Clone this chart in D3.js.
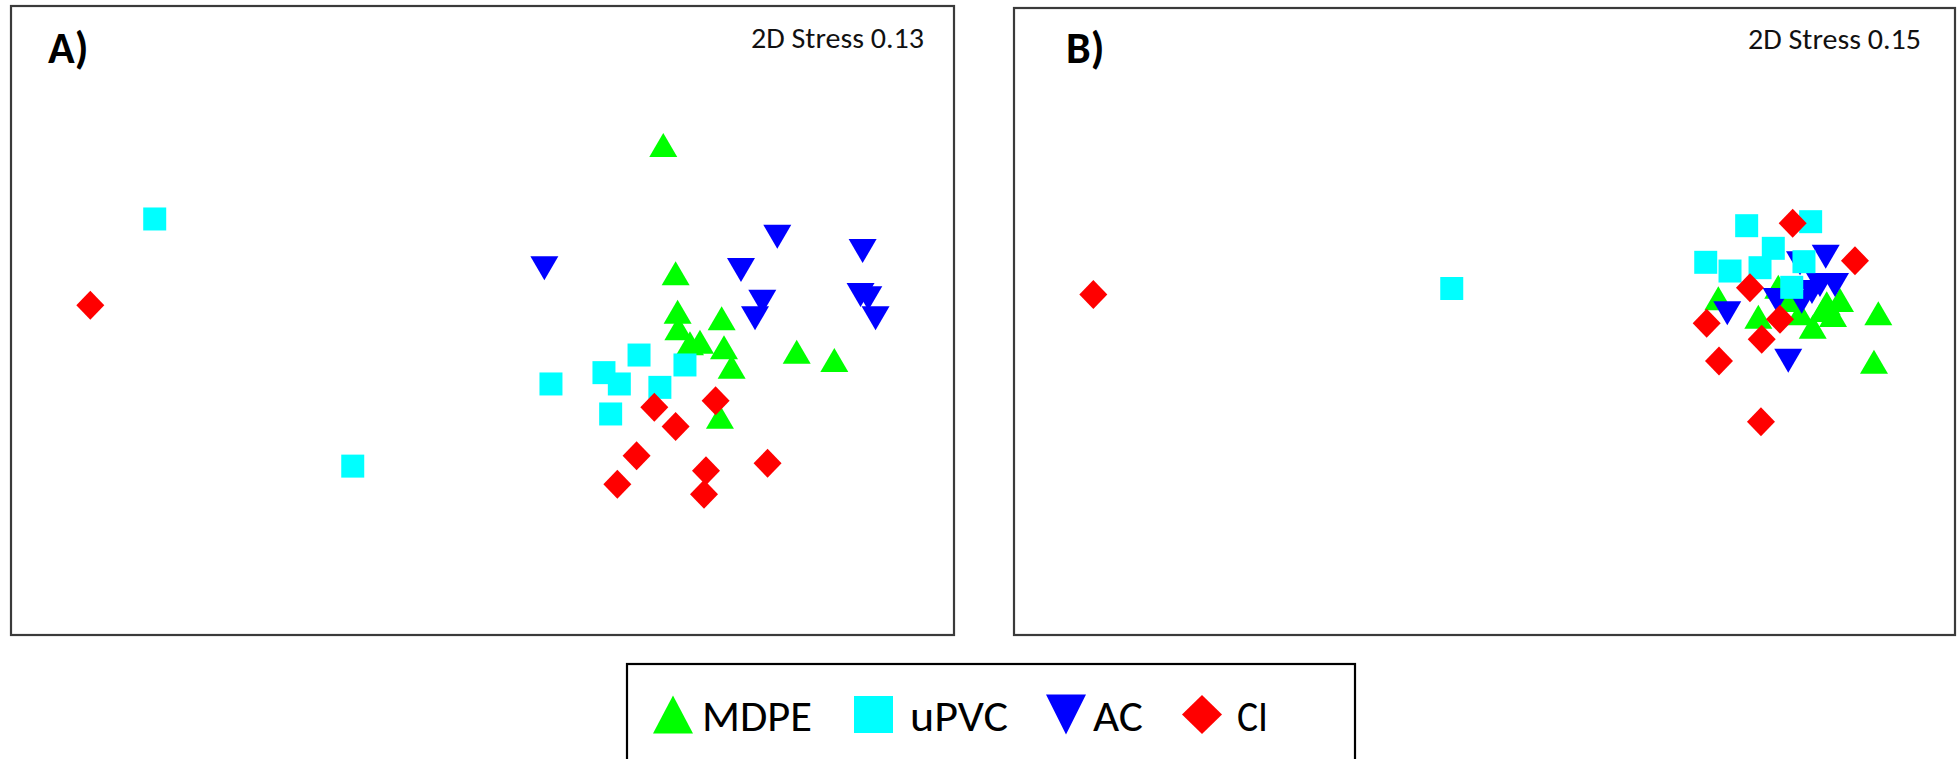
<!DOCTYPE html>
<html>
<head>
<meta charset="utf-8">
<script src="https://cdn.jsdelivr.net/npm/d3@7"></script>
<style>
  html, body { margin: 0; padding: 0; background: #fff; }
  svg { display: block; }
</style>
</head>
<body>
<div id="chart"></div>
<script>
// ---- Data: nMDS ordination coordinates (percent of plot extent, y up) ----
const categories = ["MDPE", "uPVC", "AC", "CI"];
const colors = ["#00ff00", "#00ffff", "#0000ff", "#ff0000"];
const shapes = ["triangleUp", "square", "triangleDown", "diamond"];

const panelLabels = ["A)", "B)"];
const stressLabels = ["2D Stress 0.13", "2D Stress 0.15"];

// Panel A
const A_MDPE = [[69.17,77.91],[70.48,57.5],[70.69,51.41],[70.77,48.75],[72.0,46.37],[73.06,46.64],[75.36,50.34],[75.61,45.74],[76.42,42.66],[83.32,45.05],[87.31,43.71],[75.18,34.71]];
const A_uPVC = [[57.26,39.91],[62.88,41.71],[64.51,39.91],[66.6,44.51],[68.81,39.37],[71.47,42.93],[63.59,35.14],[15.24,66.14],[36.24,26.85]];
const A_AC   = [[56.56,58.29],[81.26,63.33],[77.41,58.02],[79.67,53.0],[78.9,50.34],[90.31,61.05],[90.09,54.05],[90.91,53.53],[91.68,50.34]];
const A_CI   = [[68.22,36.19],[74.72,37.26],[70.48,33.13],[66.34,28.51],[64.3,23.95],[73.7,26.13],[73.49,22.37],[80.23,27.3],[8.41,52.42]];

// Panel B
const B_MDPE = [[74.85,53.7],[79.1,50.77],[84.88,49.17],[91.85,51.31],[91.39,43.59],[83.53,51.31],[86.37,52.9],[87.78,53.43],[81.22,55.55],[86.0,51.83],[82.47,53.43],[87.04,51.04]];
const B_uPVC = [[77.86,65.28],[84.66,65.92],[80.69,61.67],[73.51,59.44],[76.09,58.05],[79.28,58.58],[83.95,59.54],[82.65,55.45],[46.52,55.26]];
const B_AC   = [[86.26,60.33],[75.8,51.31],[82.28,43.75],[83.53,59.28],[81.05,53.43],[83.71,53.16],[85.65,55.82],[87.25,55.82],[84.8,54.7]];
const B_CI   = [[82.75,65.66],[89.37,59.7],[78.21,55.39],[73.61,49.71],[81.4,50.35],[79.46,47.16],[74.92,43.7],[79.38,34.02],[8.43,54.29]];

const panelsData = [
  [A_MDPE, A_uPVC, A_AC, A_CI],
  [B_MDPE, B_uPVC, B_AC, B_CI]
];
// draw order: green, blue, cyan, red
const drawOrder = [0, 2, 1, 3];

// ---- Layout ----
const W = 1959, H = 759;
const panels = [
  {x0: 11, x1: 954, y0: 6, y1: 635, labelDx: 37, labelBase: 63, stressRight: 924, stressBase: 48},
  {x0: 1014, x1: 1955, y0: 8, y1: 635, labelDx: 52, labelBase: 63, stressRight: 1921, stressBase: 49}
];
const FONT = "Carlito, Calibri, Lato, 'Open Sans', sans-serif";

function shapePath(type, w, h) {
  const a = w / 2, b = h / 2;
  switch (type) {
    case "triangleUp":   return `M0,${-b}L${a},${b}L${-a},${b}Z`;
    case "triangleDown": return `M${-a},${-b}L${a},${-b}L0,${b}Z`;
    case "square":       return `M${-a},${-b}H${a}V${b}H${-a}Z`;
    case "diamond":      return `M0,${-b}L${a},0L0,${b}L${-a},0Z`;
  }
}
const markSize = {triangleUp: [28, 24], triangleDown: [28, 24], square: [23, 23], diamond: [28, 29]};
const legendSize = {triangleUp: [40, 38], triangleDown: [40, 40], square: [39, 37], diamond: [40, 39]};

const svg = d3.select("#chart").append("svg")
  .attr("width", W).attr("height", H)
  .attr("viewBox", `0 0 ${W} ${H}`);
svg.append("rect").attr("width", W).attr("height", H).attr("fill", "#fff");

panels.forEach((p, pi) => {
  const x = d3.scaleLinear().domain([0, 100]).range([p.x0, p.x1]);
  const y = d3.scaleLinear().domain([0, 100]).range([p.y1, p.y0]);
  const g = svg.append("g").attr("class", "panel");

  g.append("rect")
    .attr("x", p.x0).attr("y", p.y0)
    .attr("width", p.x1 - p.x0).attr("height", p.y1 - p.y0)
    .attr("fill", "none").attr("stroke", "#3a3a3a").attr("stroke-width", 2.2);

  g.append("text")
    .attr("x", p.x0 + p.labelDx).attr("y", p.labelBase)
    .attr("font-family", FONT).attr("font-weight", "bold")
    .attr("font-size", 44).attr("fill", "#000")
    .text(panelLabels[pi]);

  g.append("text")
    .attr("x", p.stressRight).attr("y", p.stressBase)
    .attr("text-anchor", "end")
    .attr("font-family", FONT).attr("font-size", 29).attr("fill", "#111")
    .attr("textLength", 173).attr("lengthAdjust", "spacingAndGlyphs")
    .text(stressLabels[pi]);

  drawOrder.forEach(ci => {
    const type = shapes[ci];
    const [w, h] = markSize[type];
    g.append("g").selectAll("path")
      .data(panelsData[pi][ci])
      .join("path")
      .attr("d", shapePath(type, w, h))
      .attr("transform", d => `translate(${x(d[0])},${y(d[1])})`)
      .attr("fill", colors[ci]);
  });
});

// ---- Legend ----
const legend = svg.append("g").attr("class", "legend");
legend.append("rect")
  .attr("x", 627).attr("y", 664).attr("width", 728).attr("height", 120)
  .attr("fill", "#fff").attr("stroke", "#000").attr("stroke-width", 2.2);

const legendItems = [
  {mx: 673, tx: 702, tw: 110},
  {mx: 873.5, tx: 910, tw: 98},
  {mx: 1066, tx: 1093, tw: 50},
  {mx: 1202, tx: 1237, tw: 31}
];
const legendX = d3.scalePoint().domain(categories).range([0, 3]);
categories.forEach((c, i) => {
  const it = legendItems[legendX(c)];
  const type = shapes[i];
  const [w, h] = legendSize[type];
  legend.append("path")
    .attr("d", shapePath(type, w, h))
    .attr("transform", `translate(${it.mx},714.5)`)
    .attr("fill", colors[i]);
  legend.append("text")
    .attr("x", it.tx).attr("y", 731)
    .attr("font-family", FONT).attr("font-size", 43).attr("fill", "#000")
    .attr("textLength", it.tw).attr("lengthAdjust", "spacingAndGlyphs")
    .text(c);
});
</script>
</body>
</html>
